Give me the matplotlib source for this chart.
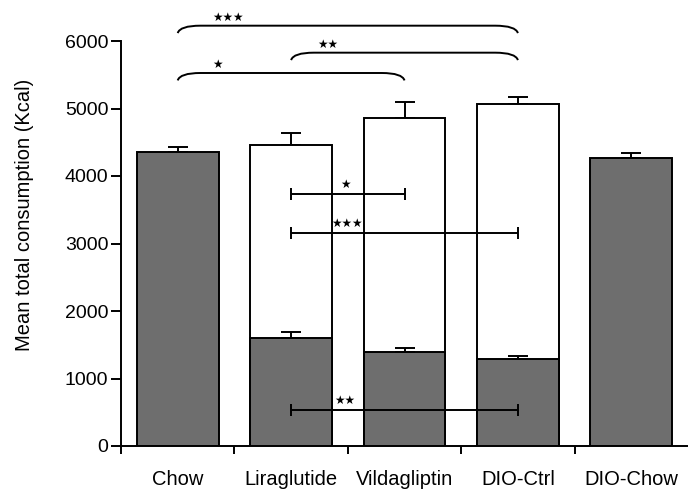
import numpy as np
import matplotlib
matplotlib.use('Agg')
import matplotlib.pyplot as plt
from matplotlib.path import Path
from matplotlib.patches import PathPatch

categories = ['Chow', 'Liraglutide', 'Vildagliptin', 'DIO-Ctrl', 'DIO-Chow']
total = [4356, 4455, 4864, 5067, 4262]
total_err = [78, 186, 228, 103, 83]
# chow part of the diet for the three high-fat groups
mixed_idx = [1, 2, 3]
chow_part = [1604, 1388, 1284]
chow_err = [89, 64, 45]

# top brackets: (left group, right group, y level, label)
brackets = [(0, 3, 6227, '★★★'), (1, 3, 5827, '★★'), (0, 2, 5526, '★')]
bracket_label_x = [0.44, 1.32, 0.35]
# horizontal comparison bars: (left, right, y, label)
hbars = [(1, 2, 3733, '★'), (1, 3, 3156, '★★★'), (1, 3, 533, '★★')]
hbar_label_x = [1.48, 1.49, 1.47]

gray = '#6e6e6e'
plt.rcParams['font.family'] = ['Liberation Sans', 'DejaVu Sans']

fig = plt.figure(figsize=(6.88, 4.91), dpi=100)
ax = fig.add_axes([121 / 688, 1 - 446 / 491, (688 - 121) / 688, 405 / 491])

x = np.arange(len(categories))
w = 0.72
lw = 1.4

solid_idx = [0, 4]
ax.bar([x[i] for i in solid_idx], [total[i] for i in solid_idx], width=w,
       color=gray, edgecolor='black', lw=lw, zorder=2)
ax.bar([x[i] for i in mixed_idx], [total[i] for i in mixed_idx], width=w,
       color='white', edgecolor='black', lw=lw, zorder=2)
ax.bar([x[i] for i in mixed_idx], chow_part, width=w,
       color=gray, edgecolor='black', lw=lw, zorder=3)

ax.errorbar(x, total, yerr=[np.zeros(len(total)), total_err], fmt='none',
            ecolor='black', elinewidth=lw, capsize=7, capthick=lw, zorder=1)
ax.errorbar(mixed_idx, chow_part, yerr=[np.zeros(3), chow_err], fmt='none',
            ecolor='black', elinewidth=lw, capsize=7, capthick=lw, zorder=4)

# comparison bars inside the plot
for (a, b, y, lab), lx in zip(hbars, hbar_label_x):
    ax.errorbar((a + b) / 2, y, xerr=(b - a) / 2, fmt='none', ecolor='black',
                elinewidth=lw, capsize=4.5, capthick=lw, zorder=5)
    ax.text(lx, y + 45, lab, ha='center', va='bottom', fontsize=8.5,
            family='DejaVu Sans', zorder=6)

# curved brackets above the plot
dx, dy = 0.2, 110
for (a, b, y, lab), lx in zip(brackets, bracket_label_x):
    verts = [(a, y - dy), (a + 0.02, y), (a + dx, y),
             (b - dx, y), (b - 0.02, y), (b, y - dy)]
    codes = [Path.MOVETO, Path.CURVE3, Path.CURVE3,
             Path.LINETO, Path.CURVE3, Path.CURVE3]
    ax.add_patch(PathPatch(Path(verts, codes), fill=False, lw=lw,
                           edgecolor='black', clip_on=False, zorder=5))
    ax.text(lx, y + 30, lab, ha='center', va='bottom', fontsize=8.5,
            family='DejaVu Sans', clip_on=False)

ax.set_xlim(-0.5, 4.5)
ax.set_ylim(0, 6000)
ax.set_yticks([0, 1000, 2000, 3000, 4000, 5000, 6000])
ax.set_xticks([-0.5, 0.5, 1.5, 2.5, 3.5])
ax.set_xticklabels([])
ax.set_xticks(x, minor=True)
ax.set_xticklabels(categories, minor=True, fontsize=14.5)
ax.tick_params(axis='x', which='major', length=6, width=lw, direction='out')
ax.tick_params(axis='x', which='minor', length=0, pad=17)
ax.tick_params(axis='y', length=7, width=lw, labelsize=14, pad=2)

for s in ['top', 'right']:
    ax.spines[s].set_visible(False)
for s in ['left', 'bottom']:
    ax.spines[s].set_linewidth(lw)

ax.set_ylabel('Mean total consumption (Kcal)', fontsize=14.5)
ax.yaxis.set_label_coords(-0.154, 0.57)

plt.savefig('out.png', dpi=100)
